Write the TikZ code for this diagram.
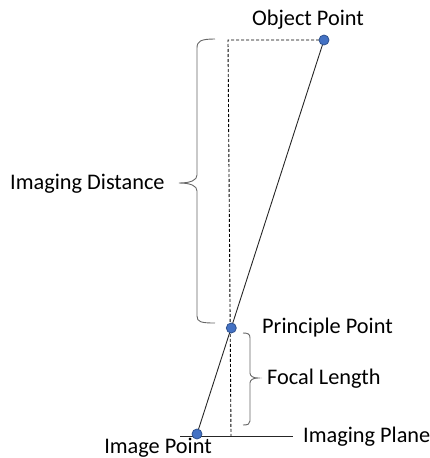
\documentclass[tikz,border=0pt]{standalone}
\usepackage{fontspec}
\setmainfont{Carlito}
\begin{document}
\begin{tikzpicture}[x=1pt,y=-1pt,
  dot/.style={circle,fill=dotblue,draw=dotedge,line width=0.8pt,minimum size=10pt,inner sep=0pt},
  lbl/.style={font=\fontsize{22.3}{26}\selectfont,inner sep=0pt,text=black},
  ray/.style={draw=black!85,line width=0.9pt},
  guide/.style={draw=black,line width=0.9pt,dash pattern=on 3pt off 2pt},
  bracket/.style={draw=black!60,line width=0.9pt}]
\definecolor{dotblue}{HTML}{4472C4}
\definecolor{dotedge}{HTML}{2F528F}
\useasboundingbox (0,0) rectangle (430,458);
% coordinates
\coordinate (corner) at (228,40);
\coordinate (foot) at (231,436);
\coordinate (planeL) at (180,436);
\coordinate (planeR) at (293,436);
% lines
\draw[ray] (planeL) -- (planeR);
\draw[guide] (324,40) coordinate (objc) -- (corner) -- (foot);
\draw[ray] (objc) -- (197,434) coordinate (imgc);
% dots
\node[dot] (obj) at (objc) {};
\node[dot] (pp) at (231.3,328) {};
\node[dot] (img) at (imgc) {};
% braces
\draw[bracket] (215,39) .. controls (201,39) and (197,41) .. (197,48) -- (197,175)
  .. controls (197,180) and (191,183) .. (179,183)
  .. controls (191,183) and (197,186) .. (197,191) -- (197,316)
  .. controls (197,322) and (201,323) .. (215,323);
\draw[bracket] (243,333) .. controls (248,333) and (250,334) .. (250,338) -- (250,373)
  .. controls (250,376) and (253,378) .. (258,378)
  .. controls (253,378) and (250,380) .. (250,383) -- (250,421)
  .. controls (250,424) and (248,425) .. (243,425);
% labels
\node[lbl,anchor=center] (tobj) at (308,20) {Object Point};
\node[lbl,anchor=west] (tdist) at (10,184) {Imaging Distance};
\node[lbl,anchor=west] (tpp) at (262,328) {Principle Point};
\node[lbl,anchor=west] (tfl) at (267,379) {Focal Length};
\node[lbl,anchor=west] (tplane) at (303,437) {Imaging Plane};
\node[lbl,anchor=center] (timg) at (158,448) {Image Point};
\end{tikzpicture}
\end{document}
